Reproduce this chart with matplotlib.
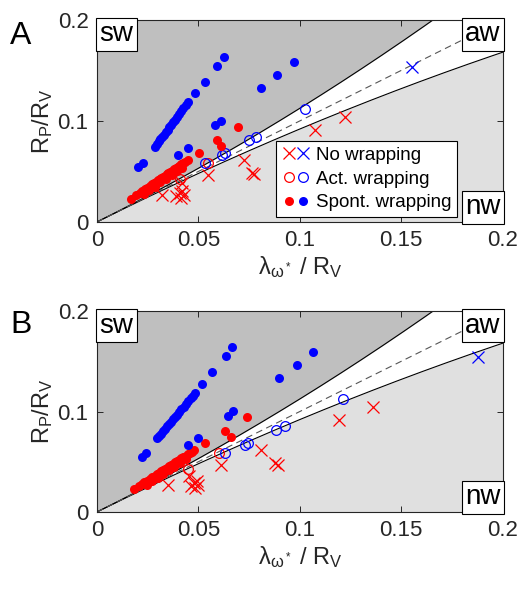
import numpy as np
import matplotlib
matplotlib.use('Agg')
import matplotlib.pyplot as plt
from matplotlib.legend_handler import HandlerTuple

plt.rcParams['font.family'] = 'Liberation Sans'
plt.rcParams['mathtext.fontset'] = 'custom'
plt.rcParams['mathtext.rm'] = 'Liberation Sans'
plt.rcParams['mathtext.it'] = 'Liberation Sans:italic'

# ---------------- panel A data ----------------
a_red_fill_x = [0.0168, 0.0195, 0.0210, 0.0222, 0.0236, 0.0248, 0.0260, 0.0272, 0.0281, 0.0290,
                0.0300, 0.0310, 0.0318, 0.0328, 0.0335, 0.0345, 0.0352, 0.0362, 0.0370, 0.0380,
                0.0388, 0.0398, 0.0405, 0.0415, 0.0425, 0.0435, 0.0447,
                0.0230, 0.0258, 0.0285, 0.0312, 0.0340, 0.0368, 0.0395, 0.0420,
                0.0502, 0.0590, 0.0611, 0.0693]
a_red_fill_y = [0.0228, 0.0265, 0.0286, 0.0303, 0.0322, 0.0339, 0.0355, 0.0372, 0.0385, 0.0397,
                0.0411, 0.0425, 0.0436, 0.0450, 0.0459, 0.0473, 0.0483, 0.0497, 0.0508, 0.0522,
                0.0533, 0.0547, 0.0556, 0.0570, 0.0584, 0.0598, 0.0614,
                0.0274, 0.0313, 0.0350, 0.0392, 0.0426, 0.0465, 0.0507, 0.0537,
                0.0686, 0.0812, 0.0752, 0.0944]
a_blue_fill_x = [0.0204, 0.0228, 0.0286, 0.0296, 0.0305, 0.0313, 0.0322, 0.0330, 0.0340, 0.0348,
                 0.0357, 0.0366, 0.0375, 0.0385, 0.0395, 0.0405, 0.0415, 0.0425, 0.0438, 0.0450,
                 0.0483, 0.0532, 0.0594, 0.0627, 0.0401, 0.0447, 0.0581, 0.0611, 0.0808, 0.0887, 0.0969]
a_blue_fill_y = [0.0548, 0.0587, 0.0746, 0.0773, 0.0797, 0.0819, 0.0844, 0.0865, 0.0892, 0.0914,
                 0.0938, 0.0963, 0.0987, 0.1014, 0.1041, 0.1068, 0.1096, 0.1123, 0.1158, 0.1190,
                 0.1274, 0.1389, 0.1548, 0.1630, 0.0663, 0.0730, 0.0960, 0.1003, 0.1323, 0.1455, 0.1587]
a_red_open_x = [0.0548, 0.0409]
a_red_open_y = [0.0581, 0.0423]
a_blue_open_x = [0.0532, 0.0614, 0.0631, 0.0749, 0.0782, 0.1025]
a_blue_open_y = [0.0581, 0.0663, 0.0686, 0.0812, 0.0845, 0.1116]
a_red_cross_x = [0.0319, 0.0392, 0.0409, 0.0420, 0.0430, 0.0414, 0.0421, 0.0548, 0.0726, 0.0762, 0.0775, 0.1074, 0.1225]
a_red_cross_y = [0.0267, 0.0257, 0.0284, 0.0310, 0.0267, 0.0234, 0.0383, 0.0465, 0.0614, 0.0482, 0.0475, 0.0911, 0.1043]
a_blue_cross_x = [0.1555]
a_blue_cross_y = [0.1538]

# ---------------- panel B data ----------------
b_red_fill_x = [0.0184, 0.0205, 0.0220, 0.0234, 0.0248, 0.0260, 0.0272, 0.0284, 0.0295, 0.0305,
                0.0316, 0.0326, 0.0336, 0.0346, 0.0356, 0.0366, 0.0376, 0.0386, 0.0396, 0.0406,
                0.0416, 0.0426, 0.0437, 0.0448, 0.0458, 0.0468, 0.0479,
                0.0245, 0.0272, 0.0300, 0.0328, 0.0355, 0.0382, 0.0410, 0.0438,
                0.0535, 0.0631, 0.0660, 0.0739]
b_red_fill_y = [0.0229, 0.0257, 0.0276, 0.0295, 0.0313, 0.0329, 0.0345, 0.0361, 0.0375, 0.0388,
                0.0403, 0.0416, 0.0429, 0.0442, 0.0455, 0.0468, 0.0481, 0.0495, 0.0508, 0.0521,
                0.0534, 0.0547, 0.0562, 0.0576, 0.0589, 0.0602, 0.0617,
                0.0269, 0.0305, 0.0342, 0.0383, 0.0414, 0.0449, 0.0491, 0.0523,
                0.0690, 0.0809, 0.0749, 0.0948]
b_blue_fill_x = [0.0220, 0.0240, 0.0294, 0.0304, 0.0314, 0.0324, 0.0334, 0.0344, 0.0354, 0.0364,
                 0.0374, 0.0384, 0.0394, 0.0405, 0.0416, 0.0427, 0.0438, 0.0450, 0.0462, 0.0472, 0.0483,
                 0.0519, 0.0568, 0.0634, 0.0667, 0.0447, 0.0496, 0.0647, 0.0672, 0.0898, 0.0984, 0.1066]
b_blue_fill_y = [0.0550, 0.0590, 0.0733, 0.0757, 0.0780, 0.0804, 0.0828, 0.0851, 0.0875, 0.0899,
                 0.0922, 0.0946, 0.0970, 0.0996, 0.1021, 0.1048, 0.1074, 0.1102, 0.1130, 0.1154, 0.1180,
                 0.1274, 0.1396, 0.1552, 0.1639, 0.0667, 0.0733, 0.0955, 0.1005, 0.1330, 0.1463, 0.1595]
b_red_open_x = [0.0603, 0.0447]
b_red_open_y = [0.0584, 0.0425]
b_blue_open_x = [0.0631, 0.0729, 0.0745, 0.0885, 0.0926, 0.1213]
b_blue_open_y = [0.0584, 0.0667, 0.0690, 0.0816, 0.0856, 0.1121]
b_red_cross_x = [0.0351, 0.0466, 0.0480, 0.0491, 0.0499, 0.0483, 0.0453, 0.0611, 0.0808, 0.0877, 0.0890, 0.1192, 0.1361]
b_red_cross_y = [0.0269, 0.0259, 0.0285, 0.0312, 0.0269, 0.0236, 0.0358, 0.0468, 0.0617, 0.0484, 0.0468, 0.0915, 0.1048]
b_blue_cross_x = [0.1878]
b_blue_cross_y = [0.1545]

xticks = [0, 0.05, 0.1, 0.15, 0.2]
xticklabels = ['0', '0.05', '0.1', '0.15', '0.2']
yticks = [0, 0.1, 0.2]
yticklabels = ['0', '0.1', '0.2']

# regime boundaries
xs = np.linspace(0, 0.2, 400)
upper = xs * (1 + 1.25 * xs)
lower = xs * (1 - 0.8 * xs)

RED = '#ff0000'
BLUE = '#0000ff'


def draw_panel(ax, rf, bf, ro, bo, rx, bx):
    ax.fill_between(xs, np.minimum(upper, 0.2), 0.2, color='#bfbfbf', lw=0, zorder=0)
    ax.fill_between(xs, 0, lower, color='#e0e0e0', lw=0, zorder=0)
    ax.plot(xs, upper, color='k', lw=0.8, zorder=1)
    ax.plot(xs, lower, color='k', lw=0.8, zorder=1)
    ax.plot(xs, xs, color='#555555', lw=0.8, dashes=(6, 4), zorder=1)

    ax.plot(rx[0], rx[1], 'x', color=RED, ms=9, mew=0.9, zorder=3)
    ax.plot(bx[0], bx[1], 'x', color=BLUE, ms=9, mew=0.9, zorder=3)
    ax.plot(ro[0], ro[1], 'o', mfc='none', mec=RED, ms=7, mew=0.9, zorder=3)
    ax.plot(bo[0], bo[1], 'o', mfc='none', mec=BLUE, ms=7, mew=0.9, zorder=3)
    ax.plot(rf[0], rf[1], 'o', color=RED, ms=6.5, mew=0, zorder=4)
    ax.plot(bf[0], bf[1], 'o', color=BLUE, ms=6.5, mew=0, zorder=4)

    ax.set_xlim(0, 0.2)
    ax.set_ylim(0, 0.2)
    ax.set_xticks(xticks)
    ax.set_xticklabels(xticklabels)
    ax.set_yticks(yticks)
    ax.set_yticklabels(yticklabels)
    ax.tick_params(direction='in', top=True, right=True, length=4, width=0.7,
                   labelsize=16, color='#262626', labelcolor='#262626', pad=6)
    for s in ax.spines.values():
        s.set_linewidth(0.8)
        s.set_color('#262626')

    box = dict(boxstyle='square,pad=0.12', facecolor='white', edgecolor='k', lw=0.8)
    ax.text(0.006, 0.992, 'sw', transform=ax.transAxes, ha='left', va='top', fontsize=20, bbox=box, zorder=6)
    ax.text(0.994, 0.992, 'aw', transform=ax.transAxes, ha='right', va='top', fontsize=20, bbox=box, zorder=6)
    ax.text(0.994, 0.008, 'nw', transform=ax.transAxes, ha='right', va='bottom', fontsize=20, bbox=box, zorder=6)

    ax.set_ylabel(r'R$_\mathregular{P}$/R$_\mathregular{V}$', fontsize=17, color='#262626', labelpad=2)
    ax.set_xlabel(r'$\mathregular{\lambda_{\omega^*}}$ / R$_\mathregular{V}$', fontsize=17, color='#262626', labelpad=2)


fig = plt.figure(figsize=(5.21, 5.91), dpi=100)
axA = fig.add_axes([0.186, 0.6244, 0.779, 0.342])
axB = fig.add_axes([0.186, 0.1337, 0.779, 0.340])

draw_panel(axA, (a_red_fill_x, a_red_fill_y), (a_blue_fill_x, a_blue_fill_y),
           (a_red_open_x, a_red_open_y), (a_blue_open_x, a_blue_open_y),
           (a_red_cross_x, a_red_cross_y), (a_blue_cross_x, a_blue_cross_y))
draw_panel(axB, (b_red_fill_x, b_red_fill_y), (b_blue_fill_x, b_blue_fill_y),
           (b_red_open_x, b_red_open_y), (b_blue_open_x, b_blue_open_y),
           (b_red_cross_x, b_red_cross_y), (b_blue_cross_x, b_blue_cross_y))

# legend with paired red/blue markers
h_rx, = axA.plot([], [], 'x', color=RED, ms=8, mew=0.9)
h_bx, = axA.plot([], [], 'x', color=BLUE, ms=8, mew=0.9)
h_ro, = axA.plot([], [], 'o', mfc='none', mec=RED, ms=7, mew=0.9)
h_bo, = axA.plot([], [], 'o', mfc='none', mec=BLUE, ms=7, mew=0.9)
h_rf, = axA.plot([], [], 'o', color=RED, ms=6.5, mew=0)
h_bf, = axA.plot([], [], 'o', color=BLUE, ms=6.5, mew=0)
leg = axA.legend([(h_rx, h_bx), (h_ro, h_bo), (h_rf, h_bf)],
                 ['No wrapping', 'Act. wrapping', 'Spont. wrapping'],
                 handler_map={tuple: HandlerTuple(ndivide=None, pad=0)},
                 loc='lower right', bbox_to_anchor=(0.887, 0.025), fontsize=13.5,
                 handlelength=1.5, handletextpad=0.3, labelspacing=0.35, borderpad=0.3,
                 borderaxespad=0, fancybox=False, framealpha=1, edgecolor='k')
leg.get_frame().set_linewidth(0.8)
leg.set_zorder(7)

fig.text(0.019, 0.965, 'A', fontsize=23, ha='left', va='top')
fig.text(0.019, 0.475, 'B', fontsize=23, ha='left', va='top')

fig.savefig('out.png', dpi=100)
